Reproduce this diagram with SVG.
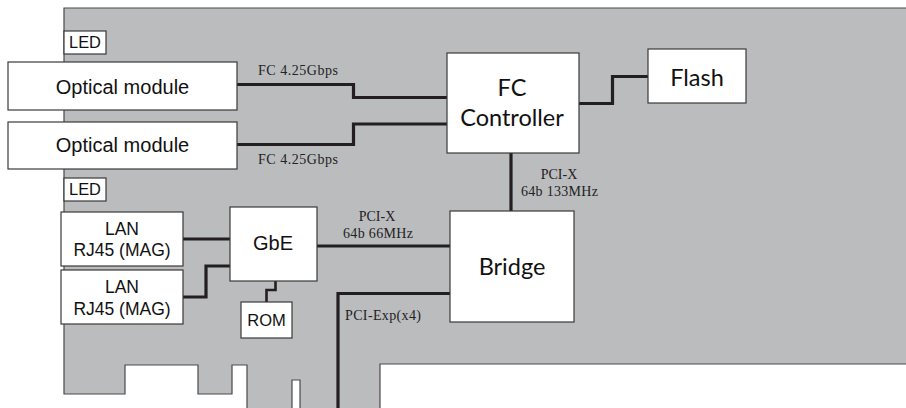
<svg xmlns="http://www.w3.org/2000/svg" width="906" height="408" viewBox="0 0 906 408">
<style>
.board{fill:#bbbcbe;stroke:#4a4a4a;stroke-width:1.2}
.box{fill:#ffffff;stroke:#3a3a3a;stroke-width:1.2}
.wire{fill:none;stroke:#231f20;stroke-width:3.2}
.thin{fill:none;stroke:#231f20;stroke-width:2.6}
.sans{font-family:"Liberation Sans",Arial,sans-serif;fill:#111;text-anchor:middle}
.hum{font-family:Lato,"Open Sans",sans-serif;fill:#111;text-anchor:middle}
.ser{font-family:"Liberation Serif","Times New Roman",serif;fill:#222;font-size:14px}
</style>
<path class="board" d="M64,8 H912 V364 H380 V412 H247 V365 H232 V394 H198 V365 H125 V394 H64 Z"/>
<path d="M292,412 V380 H300 V412 Z" fill="#ffffff" stroke="#4a4a4a" stroke-width="1.2"/>
<g id="connectors">
<path class="wire" d="M237,84.5 H353.5 V97.5 H447"/>
<path class="wire" d="M237,144.5 H353.5 V124 H447"/>
<path class="wire" d="M579,103.5 H612.5 V76.5 H648"/>
<path class="wire" d="M511,153 V211"/>
<path class="wire" d="M183,239 H230"/>
<path class="wire" d="M183,297 H206 V266 H230"/>
<path class="wire" d="M317,246 H450"/>
<path class="wire" d="M450,293.5 H338 V410"/>
<path class="thin" d="M275.5,281 V290 H266.5 V302"/>
</g>
<g id="labels">
<text class="ser" x="258" y="75" textLength="80">FC 4.25Gbps</text>
<text class="ser" x="258" y="164" textLength="80">FC 4.25Gbps</text>
<text class="ser" x="559" y="178.5" text-anchor="middle">PCI-X</text>
<text class="ser" x="521" y="196" textLength="77">64b 133MHz</text>
<text class="ser" x="377" y="221" text-anchor="middle">PCI-X</text>
<text class="ser" x="343" y="238" textLength="70">64b 66MHz</text>
<text class="ser" x="345" y="320" textLength="76">PCI-Exp(x4)</text>
</g>
<g id="led1"><rect class="box" x="64" y="31" width="42" height="23"/><text class="sans" x="85" y="47.5" font-size="16.4">LED</text></g>
<g id="led2"><rect class="box" x="64" y="178" width="42" height="23"/><text class="sans" x="85" y="194.5" font-size="16.4">LED</text></g>
<g id="optical1"><rect class="box" x="8" y="62" width="229" height="48"/><text class="sans" x="122.5" y="94" font-size="20">Optical module</text></g>
<g id="optical2"><rect class="box" x="8" y="122" width="229" height="47"/><text class="sans" x="122.5" y="152" font-size="20">Optical module</text></g>
<g id="fc"><rect class="box" x="447" y="53" width="132" height="100"/><text class="hum" x="512" y="96" font-size="23.5">FC</text><text class="hum" x="512" y="126" font-size="23.5">Controller</text></g>
<g id="flash"><rect class="box" x="648" y="49" width="98" height="54"/><text class="hum" x="697" y="86" font-size="23.5">Flash</text></g>
<g id="bridge"><rect class="box" x="450" y="211" width="124" height="111"/><text class="hum" x="512" y="275" font-size="23.5">Bridge</text></g>
<g id="gbe"><rect class="box" x="230" y="207" width="87" height="74"/><text class="sans" x="273" y="250" font-size="20">GbE</text></g>
<g id="lan1"><rect class="box" x="61" y="212" width="122" height="54"/><text class="sans" x="122" y="235" font-size="17.5">LAN</text><text class="sans" x="122" y="256" font-size="17.5">RJ45 (MAG)</text></g>
<g id="lan2"><rect class="box" x="61" y="270" width="122" height="54"/><text class="sans" x="122" y="292.5" font-size="17.5">LAN</text><text class="sans" x="122" y="314.5" font-size="17.5">RJ45 (MAG)</text></g>
<g id="rom"><rect class="box" x="241" y="302" width="51" height="36"/><text class="sans" x="266.5" y="326" font-size="16.5">ROM</text></g>
</svg>
